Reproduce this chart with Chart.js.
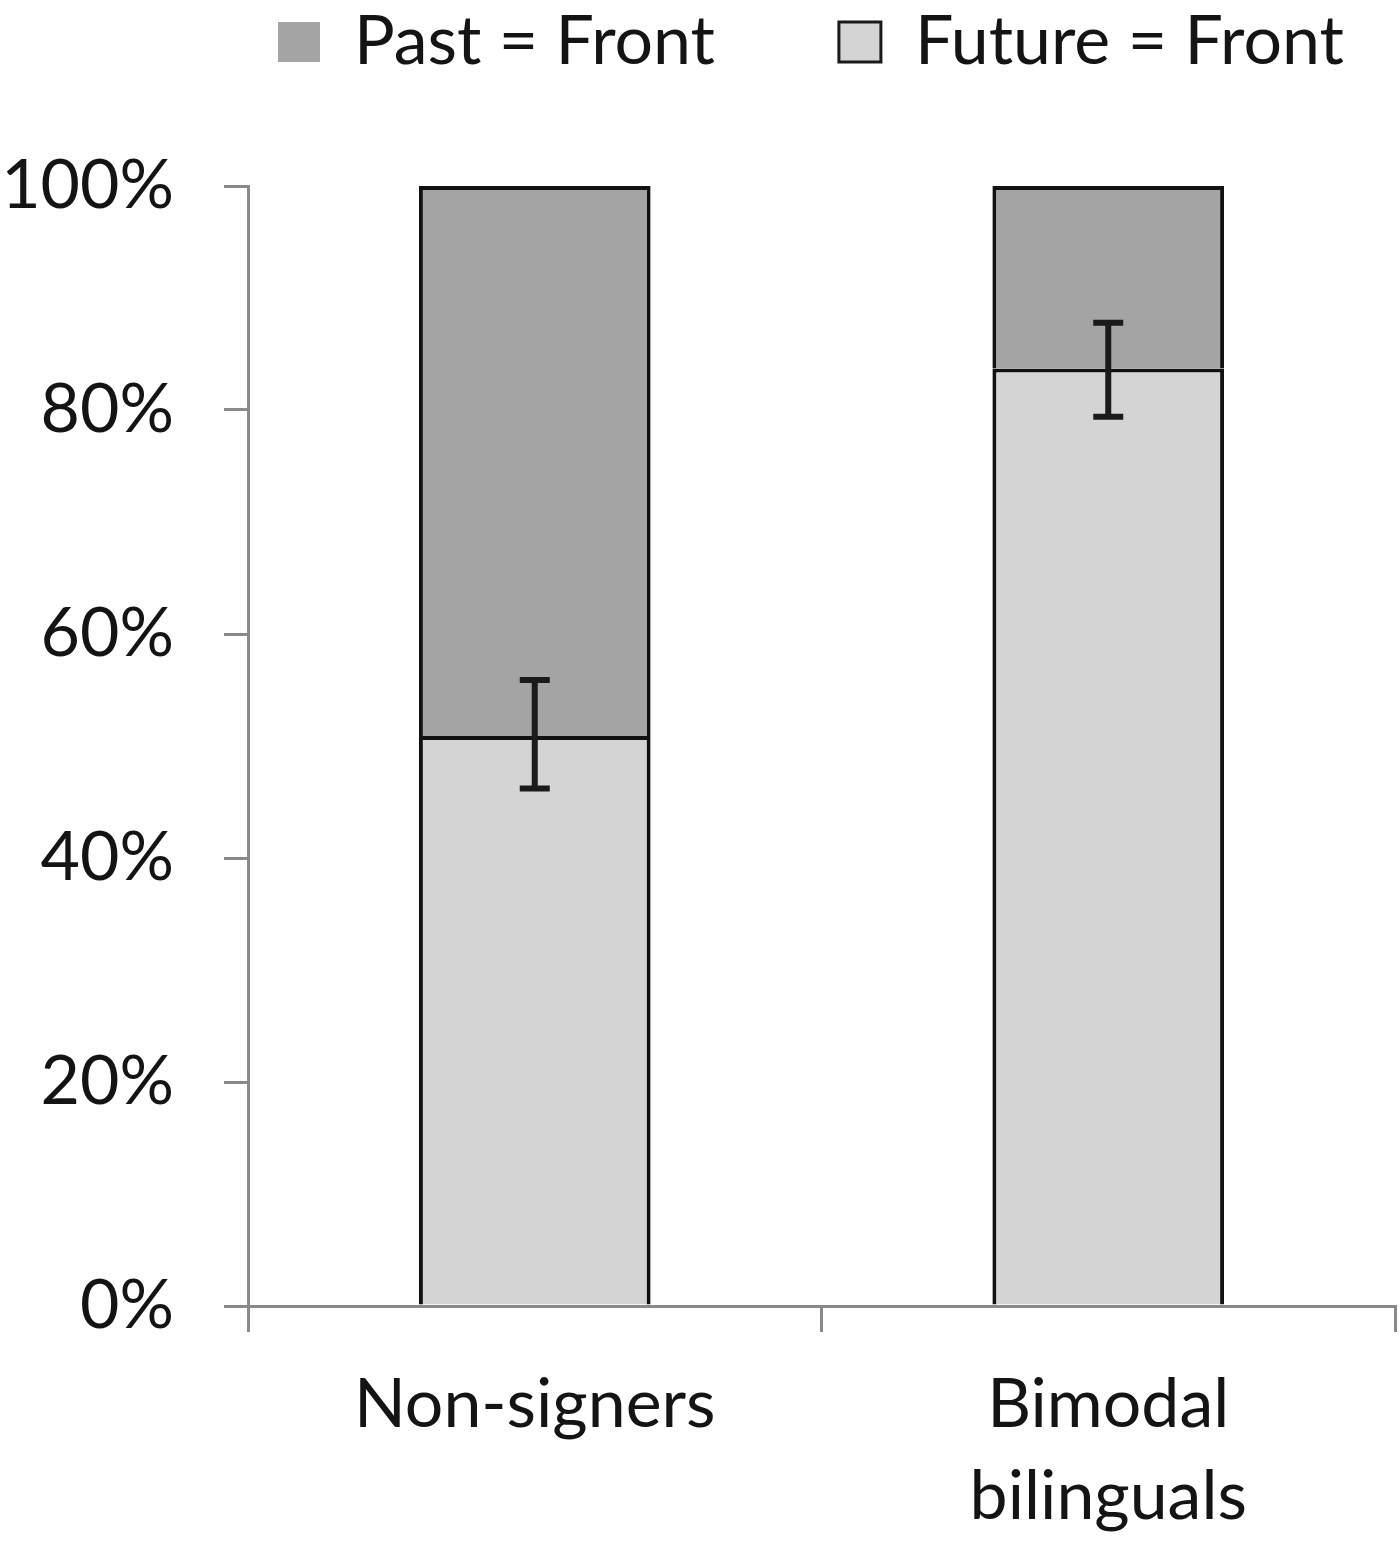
<!DOCTYPE html>
<html>
<head>
<meta charset="utf-8">
<script src="https://cdn.jsdelivr.net/npm/chart.js@4.4.1/dist/chart.umd.min.js"></script>
<style>
  html, body { margin: 0; padding: 0; background: #fff; }
  #wrap { width: 1400px; height: 1552px; }
</style>
</head>
<body>
<div id="wrap"><canvas id="timeChart" width="1400" height="1552"></canvas></div>
<script>
// values (percent of participants)
const categories = ['Non-signers', ['Bimodal', 'bilinguals']];
const futureFront = [50.9, 83.7];
const pastFront = [49.1, 16.3];
const errLow = [46.2, 79.4];
const errHigh = [55.9, 87.8];
const yTicks = [0, 20, 40, 60, 80, 100];

const axisGrey = '#8a8a8a';
const textCol = '#141414';
const fontFamily = 'Lato, "Open Sans", sans-serif';

// I-shaped error bars centred on each stacked bar
const errorBars = {
  id: 'errorBars',
  afterDatasetsDraw(chart) {
    const { ctx } = chart;
    const y = chart.scales.y;
    const bars = chart.getDatasetMeta(0).data;
    ctx.save();
    ctx.strokeStyle = '#1a1a1a';
    ctx.lineWidth = 6;
    ctx.lineCap = 'butt';
    bars.forEach((bar, i) => {
      const top = y.getPixelForValue(errHigh[i]);
      const bottom = y.getPixelForValue(errLow[i]);
      ctx.beginPath();
      ctx.moveTo(bar.x, top);
      ctx.lineTo(bar.x, bottom);
      ctx.moveTo(bar.x - 15, top);
      ctx.lineTo(bar.x + 15, top);
      ctx.moveTo(bar.x - 15, bottom);
      ctx.lineTo(bar.x + 15, bottom);
      ctx.stroke();
    });
    ctx.restore();
  }
};

// the legend sits higher and further right than chart.js would put it
const legendShift = {
  id: 'legendShift',
  afterLayout(chart) {
    const lg = chart.legend;
    lg.top -= 100;
    lg.bottom -= 100;
    lg.left += 154;
    lg.right += 154;
  }
};

const ctx = document.getElementById('timeChart').getContext('2d');

const chart = new Chart(ctx, {
  type: 'bar',
  data: {
    labels: categories,
    datasets: [
      {
        label: 'Future = Front',
        data: futureFront,
        backgroundColor: '#d4d4d4',
        borderColor: '#111',
        borderWidth: 4,
        categoryPercentage: 1,
        barPercentage: 0.404
      },
      {
        label: 'Past = Front',
        data: pastFront,
        backgroundColor: '#a4a4a4',
        borderColor: '#111',
        borderWidth: 4,
        categoryPercentage: 1,
        barPercentage: 0.404
      }
    ]
  },
  options: {
    responsive: false,
    animation: false,
    layout: { padding: { left: 0, right: 5, top: -16, bottom: 0 } },
    scales: {
      x: {
        stacked: true,
        z: 1,
        grid: {
          offset: true,
          drawOnChartArea: false,
          drawTicks: true,
          tickLength: 26,
          color: axisGrey,
          lineWidth: 3
        },
        border: { color: axisGrey, width: 3 },
        ticks: {
          color: textCol,
          padding: 28,
          font: { family: fontFamily, size: 68, lineHeight: 1.34 }
        },
        afterFit: (scale) => { scale.height = 246; }
      },
      y: {
        stacked: true,
        min: 0,
        max: 100,
        z: 1,
        afterBuildTicks: (scale) => { scale.ticks = yTicks.map(v => ({ value: v })); },
        grid: {
          drawOnChartArea: false,
          drawTicks: true,
          tickLength: 24,
          color: axisGrey,
          lineWidth: 3
        },
        border: { color: axisGrey, width: 3 },
        ticks: {
          color: textCol,
          padding: 50,
          font: { family: fontFamily, size: 68 },
          callback: (value) => value + '%'
        },
        afterFit: (scale) => { scale.width = 248; }
      }
    },
    plugins: {
      tooltip: { enabled: false },
      legend: {
        position: 'top',
        align: 'start',
        labels: {
          boxWidth: 42,
          boxHeight: 40,
          padding: 124,
          color: textCol,
          font: { family: fontFamily, size: 68 },
          generateLabels: (c) => [
            { text: 'Past = Front', fillStyle: '#a4a4a4', strokeStyle: '#a4a4a4', lineWidth: 0, fontColor: textCol, datasetIndex: 1 },
            { text: 'Future = Front', fillStyle: '#d4d4d4', strokeStyle: '#1a1a1a', lineWidth: 3, fontColor: textCol, datasetIndex: 0 }
          ]
        }
      }
    }
  },
  plugins: [errorBars, legendShift]
});
</script>
</body>
</html>
